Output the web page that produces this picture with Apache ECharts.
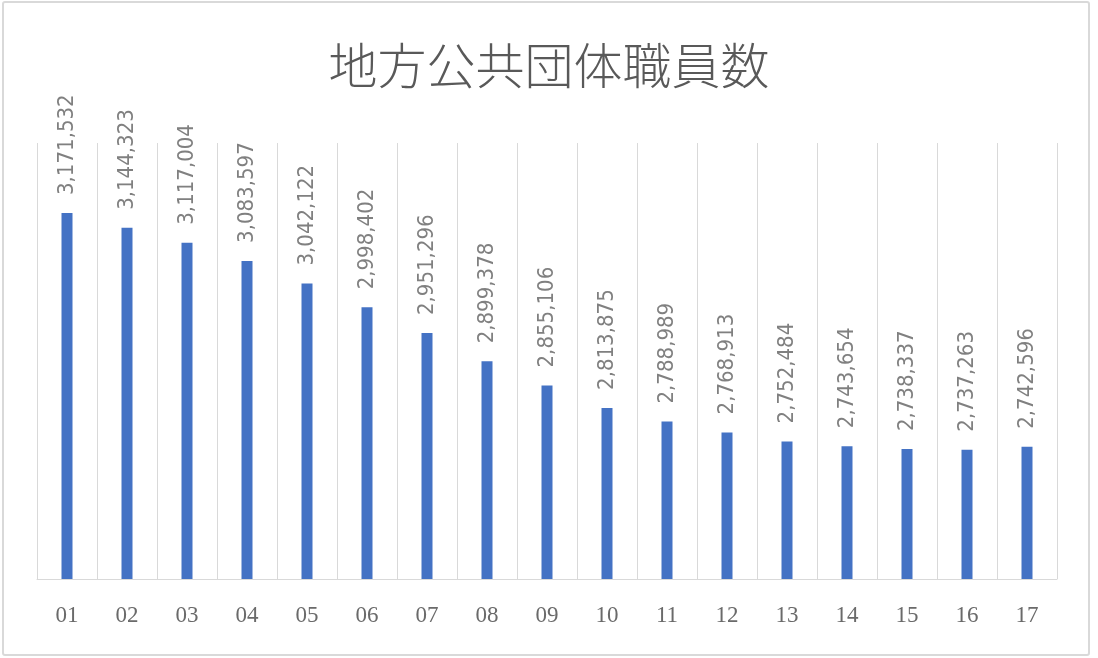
<!DOCTYPE html>
<html>
<head>
<meta charset="utf-8">
<script src="https://cdn.jsdelivr.net/npm/echarts@6/dist/echarts.min.js"></script>
<style>html,body{margin:0;padding:0;background:#fff;}#c{width:1098px;height:658px;}</style>
</head>
<body>
<div id="c"></div>
<script>
var titleText = '地方公共団体職員数';
var categories = ['01','02','03','04','05','06','07','08','09','10','11','12','13','14','15','16','17'];
var staffCounts = [3171532,3144323,3117004,3083597,3042122,2998402,2951296,2899378,2855106,2813875,2788989,2768913,2752484,2743654,2738337,2737263,2742596];
var yMin = 2500000;
var yMax = 3300000;

var chart = echarts.init(document.getElementById('c'));
chart.setOption({
  backgroundColor: '#ffffff',
  animation: false,
  graphic: [{
    type: 'rect',
    shape: { x: 3, y: 2, width: 1086, height: 653, r: 2 },
    style: { fill: 'none', stroke: '#d9d9d9', lineWidth: 2 },
    silent: true
  }],
  title: {
    text: titleText,
    left: 'center',
    top: 36,
    textStyle: {
      fontFamily: "'Noto Sans CJK JP', sans-serif",
      fontSize: 49,
      fontWeight: 300,
      color: '#595959'
    }
  },
  grid: { left: 37, right: 41, top: 143, bottom: 79, containLabel: false },
  xAxis: {
    type: 'category',
    data: categories,
    boundaryGap: true,
    axisLine: { show: true, lineStyle: { color: '#d9d9d9', width: 1 } },
    axisTick: { show: false },
    splitLine: { show: true, lineStyle: { color: '#d9d9d9', width: 1 } },
    axisLabel: {
      margin: 25,
      fontSize: 23,
      color: '#6a6a6a',
      fontFamily: "'Liberation Serif', serif"
    }
  },
  yAxis: {
    type: 'value',
    min: yMin,
    max: yMax,
    show: false,
    splitLine: { show: false }
  },
  series: [{
    type: 'bar',
    data: staffCounts,
    barWidth: 11,
    itemStyle: { color: '#4472C4' },
    label: {
      show: true,
      position: 'top',
      rotate: 90,
      align: 'left',
      verticalAlign: 'middle',
      distance: 18,
      fontSize: 22,
      color: '#808080',
      fontFamily: "'DejaVu Sans Condensed', 'Liberation Sans Narrow', sans-serif",
      formatter: function (p) { return p.value.toLocaleString('en-US'); }
    }
  }]
});
</script>
</body>
</html>
